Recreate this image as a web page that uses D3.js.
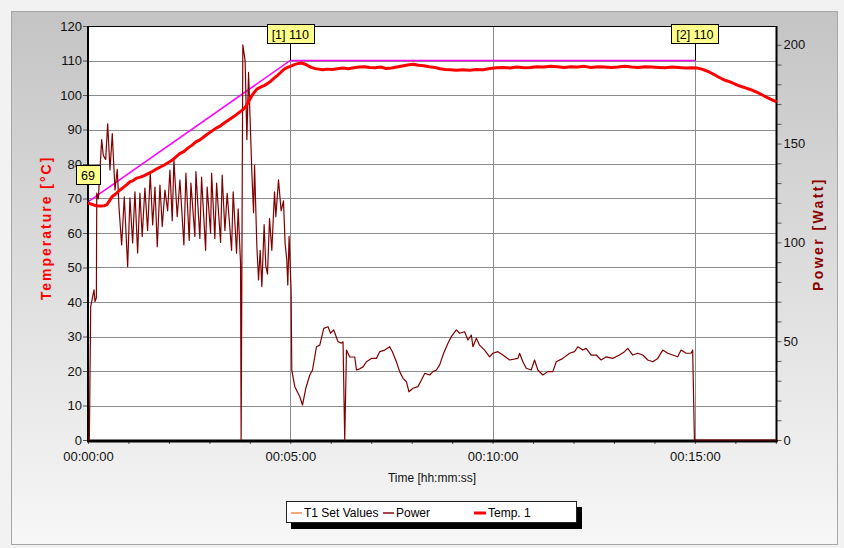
<!DOCTYPE html>
<html>
<head>
<meta charset="utf-8">
<script src="https://cdn.jsdelivr.net/npm/d3@7"></script>
<style>
  body { margin: 0; background: #efefef; }
  svg { display: block; font-family: "Liberation Sans", Arial, sans-serif; }
</style>
</head>
<body>
<svg id="chart" width="844" height="548"></svg>
<script>
// ---- data (time in seconds) ----
const setSeries = [[0, 69], [300, 110], [900, 110]];

const tempSeries = [
  [0,68.7],[6,68.3],[12,67.9],[18,67.8],[24,67.9],[28,68.2],[32,69.4],[36,70.6],[41,71.3],[47,72.4],
  [53,73.3],[58,74.1],[62,74.8],[67,75.2],[72,75.9],[78,76.2],[84,76.7],[90,77.3],[96,77.9],[102,78.6],
  [108,79.2],[113,79.7],[118,80.3],[124,81.0],[130,82.0],[136,83.0],[142,83.6],[148,84.6],[154,85.4],[160,86.4],
  [166,87.0],[172,87.9],[178,88.8],[184,89.6],[190,90.4],[196,91.0],[202,91.9],[208,92.7],[214,93.5],[220,94.3],
  [226,95.2],[231,96.0],[235,97.0],[239,98.4],[243,99.8],[247,100.9],[251,101.8],[256,102.3],[261,102.7],[266,103.3],
  [271,104.0],[276,104.9],[281,105.7],[286,106.6],[291,107.5],[296,108.0],[301,108.4],[306,108.8],[311,109.1],[316,109.3],
  [321,109.0],[326,108.5],[331,108.0],[336,107.7],[342,107.5],[348,107.3],[355,107.5],[362,107.4],[370,107.6],[378,107.8],
  [386,107.6],[394,107.9],[402,108.1],[410,108.2],[418,108.0],[426,107.9],[434,108.1],[442,107.7],[450,107.8],[458,108.1],
  [466,108.4],[474,108.7],[482,108.9],[490,108.6],[498,108.5],[506,108.2],[514,108.0],[522,107.6],[530,107.4],[538,107.3],
  [546,107.2],[556,107.3],[566,107.2],[576,107.4],[586,107.3],[596,107.7],[606,107.9],[616,108.0],[626,107.8],[636,108.1],
  [646,107.9],[656,108.0],[666,108.2],[676,108.1],[686,108.3],[696,108.2],[706,108.0],[716,108.2],[726,108.1],[736,108.3],
  [746,108.0],[756,108.2],[766,108.1],[776,108.0],[786,108.1],[796,108.3],[806,108.1],[816,108.0],[826,108.2],[836,108.1],
  [846,108.0],[856,107.9],[866,108.1],[876,108.0],[886,107.8],[896,107.9],[904,107.8],[910,107.5],[916,107.1],[922,106.6],
  [928,106.0],[934,105.3],[940,104.7],[946,104.2],[952,103.8],[958,103.3],[964,102.8],[970,102.4],[976,102.0],[982,101.6],
  [988,101.1],[994,100.6],[1000,100.0],[1006,99.4],[1012,98.8],[1018,98.3],[1021,98.0]
];

const powerSeries = [
  [0,0],[2,0],[4,67.5],[8.9,76],[10.4,70],[12.4,72],[13,125],[15.3,122],[20.3,152],[22.7,144],
  [26.2,142],[29.2,160],[32.6,136.6],[36,155],[40,126.5],[43.4,137],[45.9,118],[49.9,98.7],[53.8,123],[58.8,87.7],
  [62.2,122.5],[66.2,99.7],[69.6,125.6],[73.6,94.6],[77,125],[80.4,103],[84.4,127.5],[88.4,106],[92.3,135],[95.9,108.8],
  [99.3,128],[102.7,97.8],[106.7,129],[110.1,108],[114.1,126.5],[118.1,116],[121.5,136.6],[124.9,111],[127.4,141.7],[132.3,113],
  [136.3,131.6],[142.2,98.7],[145.2,135],[150.1,101],[152.6,130],[158.5,103],[160,135.8],[165.9,102],[168.4,133],[174.4,96],
  [176.7,128],[181.8,104.6],[183.3,135],[188.1,102],[190.7,130],[196.6,100],[199,134],[203,106],[206.4,124.8],[212.9,96],
  [215.3,125.6],[220.3,94.5],[222.7,117],[226.2,89.4],[227.1,0],[229.6,200],[233,192],[235.6,152],[238.1,186],[239,177],
  [243,135],[245.5,115],[247,139],[250.4,98],[252.9,81],[255.3,96],[257.8,77.6],[261.2,109],[263.7,88],[266.2,84],
  [269.2,112],[272.6,96],[276.6,125.6],[278.5,113],[282.5,131.6],[286.4,116],[289.9,121],[292.3,99.5],[294.8,91],[296.3,78.4],
  [298.2,103],[301.2,76],[302.2,35.4],[306.7,27],[314.1,21.9],[318.1,17.7],[323,26.2],[328.9,32.9],[332.9,35.4],[338.8,47.2],
  [343.7,48],[349.6,56.5],[356,57.3],[359.6,54],[364.4,55.7],[370.8,49.7],[375.9,49],[378.2,49.7],[380.7,0],[383.3,45.5],
  [388.1,42],[395.6,42],[398.1,35.4],[403,36],[407.9,37],[412.9,39.6],[420.3,41.3],[427.7,41.3],[432.6,44.7],[440,45.5],
  [447.4,47.2],[451.4,44.7],[457.3,39.6],[462.2,34.6],[467.1,31.2],[472.2,29.5],[476,24.4],[481.9,26.2],[489.3,27],[494.4,30.4],
  [499.3,33.7],[506.7,32.9],[511.6,34.6],[516.6,35.4],[521.5,38],[527.4,43.9],[533.8,49],[538.8,52.3],[546.2,55.7],[551.1,54],
  [558.5,54.8],[563.4,50.6],[568.5,53.1],[570.8,47.2],[575.9,51.5],[580.7,48],[588.1,45.5],[595.6,42.1],[600.4,43.9],[607.8,44.7],
  [615.3,43],[625.2,40.5],[637.5,41.3],[640,43.9],[644.9,39.6],[649.9,36.3],[657.3,35.4],[662.2,40.5],[667.1,35.4],[674.5,32.9],
  [681.9,34.6],[689.3,34.6],[694.4,39.6],[704.2,41.3],[714.1,43.9],[721.5,44.7],[726.4,47.2],[733.8,45.5],[738.8,46.4],[746.2,43],
  [753.6,43],[761,40.5],[768.5,42.1],[778.2,41.3],[788.1,43],[795.6,44.7],[800.4,46.4],[807.9,43],[815.3,43.9],[822.7,43],
  [830.1,40.5],[837.5,39.6],[844.9,41.3],[852.3,45.5],[859.7,43.9],[867.1,43],[874.5,42.1],[879.5,45.5],[886.9,43.9],[894.3,43.9],
  [896.7,45.5],[899.3,0],[1021,0]
];

const markerTimes  = [0, 300, 900];
const markerValues = [69, 110, 110];
const markerLabels = ["69", "[1] 110", "[2] 110"];

const tempTicks  = d3.range(0, 121, 10);
const powerTicks = d3.range(0, 201, 10);
const timeTicks  = d3.range(0, 1021, 60);
const timeLabels = {0: "00:00:00", 300: "00:05:00", 600: "00:10:00", 900: "00:15:00"};

const legendNames  = ["T1 Set Values", "Power", "Temp. 1"];
const legendColors = ["#f7a878", "#a34848", "#ff0000"];

// ---- layout ----
const W = 844, H = 548;
const plot = {left: 88, right: 776.5, top: 26, bottom: 440};

const x  = d3.scaleLinear().domain([0, 1021]).range([plot.left, plot.right]);
const yT = d3.scaleLinear().domain([0, 120]).range([plot.bottom, plot.top]);
const yP = d3.scaleLinear().domain([0, 209.5]).range([plot.bottom, plot.top]);

const svg = d3.select("#chart");

// panel background
const defs = svg.append("defs");
const grad = defs.append("linearGradient").attr("id", "panelBg")
  .attr("x1", 0).attr("y1", 0).attr("x2", 0).attr("y2", 1);
grad.append("stop").attr("offset", "0%").attr("stop-color", "#c4c4c4");
grad.append("stop").attr("offset", "100%").attr("stop-color", "#f7f7f7");

svg.append("rect").attr("width", W).attr("height", H).attr("fill", "#f2f2f2");
svg.append("rect").attr("x", 11.5).attr("y", 11.5).attr("width", 826).attr("height", 533)
  .attr("fill", "url(#panelBg)").attr("stroke", "#a6a6a6");

// plot area
svg.append("rect").attr("x", plot.left).attr("y", plot.top)
  .attr("width", plot.right - plot.left).attr("height", plot.bottom - plot.top)
  .attr("fill", "#ffffff");

// grid
const grid = svg.append("g").attr("stroke", "#8c8c8c").attr("stroke-width", 1);
grid.selectAll("line.h").data(tempTicks.filter(d => d > 0 && d < 120)).join("line")
  .attr("class", "h")
  .attr("x1", plot.left).attr("x2", plot.right)
  .attr("y1", d => Math.round(yT(d)) + 0.5).attr("y2", d => Math.round(yT(d)) + 0.5);
grid.selectAll("line.v").data([300, 600, 900]).join("line")
  .attr("class", "v")
  .attr("y1", plot.top).attr("y2", plot.bottom)
  .attr("x1", d => Math.round(x(d)) + 0.5).attr("x2", d => Math.round(x(d)) + 0.5);

// axes
const fontSize = 13;
const axL = svg.append("g").attr("transform", `translate(${plot.left},0)`)
  .call(d3.axisLeft(yT).tickValues(tempTicks).tickSize(5).tickSizeOuter(0).tickPadding(1));
const axR = svg.append("g").attr("transform", `translate(${plot.right},0)`)
  .call(d3.axisRight(yP).tickValues(powerTicks).tickSize(5).tickSizeOuter(0).tickPadding(2)
    .tickFormat(d => d % 50 === 0 ? d : ""));
const axB = svg.append("g").attr("transform", `translate(0,${plot.bottom})`)
  .call(d3.axisBottom(x).tickValues(timeTicks).tickSize(4).tickSizeOuter(0).tickPadding(8)
    .tickFormat(d => timeLabels[d] || ""));
[axL, axR, axB].forEach(g => {
  g.select(".domain").remove();
  g.selectAll("text").attr("font-size", fontSize).attr("fill", "#111")
    .attr("font-family", "'Liberation Sans', Arial, sans-serif");
  g.selectAll(".tick line").attr("stroke", "#555");
});

// plot frame
const frame = svg.append("g").attr("stroke", "#000");
frame.append("line").attr("x1", plot.left).attr("x2", plot.right).attr("y1", plot.top + 0.5).attr("y2", plot.top + 0.5).attr("stroke-width", 1);
frame.append("line").attr("x1", plot.left).attr("x2", plot.left).attr("y1", plot.top).attr("y2", plot.bottom + 2).attr("stroke-width", 2);
frame.append("line").attr("x1", plot.right).attr("x2", plot.right).attr("y1", plot.top).attr("y2", plot.bottom + 2).attr("stroke-width", 2);
frame.append("line").attr("x1", plot.left - 1).attr("x2", plot.right + 1).attr("y1", plot.bottom + 1).attr("y2", plot.bottom + 1).attr("stroke-width", 3);

// series
const lineT = d3.line().x(d => x(d[0])).y(d => yT(d[1]));
const lineP = d3.line().x(d => x(d[0])).y(d => yP(d[1]));

svg.append("path").datum(setSeries).attr("d", lineT)
  .attr("fill", "none").attr("stroke", "#ff00ff").attr("stroke-width", 1.5);
svg.append("path").datum(powerSeries).attr("d", lineP)
  .attr("fill", "none").attr("stroke", "#800000").attr("stroke-width", 1.2)
  .attr("stroke-linejoin", "round");
svg.append("path").datum(tempSeries).attr("d", lineT)
  .attr("fill", "none").attr("stroke", "#ff0000").attr("stroke-width", 3)
  .attr("stroke-linejoin", "round");

// set-point markers
markerTimes.forEach((t, i) => {
  const px = x(t), py = yT(markerValues[i]);
  const g = svg.append("g");
  const txt = g.append("text").text(markerLabels[i])
    .attr("font-size", 12.5).attr("text-anchor", "middle").attr("fill", "#000");
  const w = txt.node().getComputedTextLength() + 10;
  const h = 19, top = Math.round(py - 37) + 0.5;
  g.insert("line", "text").attr("x1", Math.round(px) + 0.5).attr("x2", Math.round(px) + 0.5)
    .attr("y1", top + h).attr("y2", py).attr("stroke", "#000");
  g.insert("rect", "text").attr("x", Math.round(px - w / 2) + 0.5).attr("y", top)
    .attr("width", Math.round(w)).attr("height", h)
    .attr("fill", "#ffff8c").attr("stroke", "#000");
  txt.attr("x", px).attr("y", top + 14);
});

// axis titles
svg.append("text").text("Temperature [°C]")
  .attr("transform", `translate(51,228) rotate(-90)`)
  .attr("text-anchor", "middle").attr("font-size", 14).attr("font-weight", "bold")
  .attr("letter-spacing", 2).attr("fill", "#ff0000");
svg.append("text").text("Power [Watt]")
  .attr("transform", `translate(823,234) rotate(-90)`)
  .attr("text-anchor", "middle").attr("font-size", 14).attr("font-weight", "bold")
  .attr("letter-spacing", 2.4).attr("fill", "#8b0000");
svg.append("text").text("Time [hh:mm:ss]")
  .attr("x", 432).attr("y", 482).attr("text-anchor", "middle")
  .attr("font-size", 12).attr("fill", "#111");

// legend
const lg = svg.append("g");
lg.append("rect").attr("x", 291).attr("y", 507).attr("width", 291).attr("height", 22).attr("fill", "#000");
lg.append("rect").attr("x", 286.5).attr("y", 501.5).attr("width", 290).attr("height", 21)
  .attr("fill", "#fff").attr("stroke", "#222");
const lgX = [[291, 302, 304], [383, 394, 396], [474, 486, 488]];
legendNames.forEach((n, i) => {
  lg.append("line").attr("x1", lgX[i][0]).attr("x2", lgX[i][1]).attr("y1", 513).attr("y2", 513)
    .attr("stroke", legendColors[i]).attr("stroke-width", i === 2 ? 3 : 2);
  lg.append("text").text(n).attr("x", lgX[i][2]).attr("y", 517)
    .attr("font-size", 12).attr("fill", "#000");
});
</script>
</body>
</html>
